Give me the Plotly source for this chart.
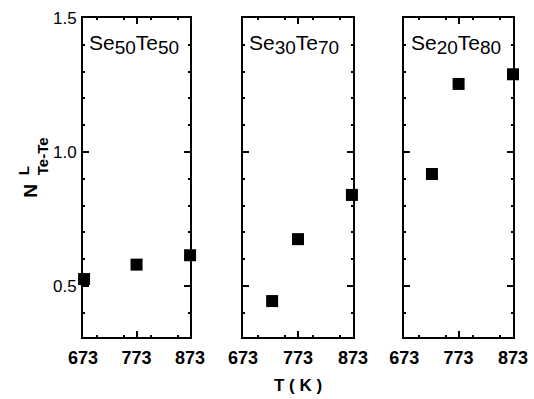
import plotly.graph_objects as go

temps_ticks = [673, 773, 873]
y_ticks = [0.5, 1.0, 1.5]

sub = "<sub><span style='font-size:19px'>{}</span></sub>"
labels = ["Se" + sub.format(50) + "Te" + sub.format(50),
          "Se" + sub.format(30) + "Te" + sub.format(70),
          "Se" + sub.format(20) + "Te" + sub.format(80)]
se50_T = [675, 773, 873]
se50_N = [0.526, 0.58, 0.615]
se30_T = [726, 773, 871]
se30_N = [0.444, 0.675, 0.84]
se20_T = [724, 773, 873]
se20_N = [0.918, 1.254, 1.29]

series = [(se50_T, se50_N), (se30_T, se30_N), (se20_T, se20_N)]
domains = [[0.0, 0.249], [0.372, 0.628], [0.747, 1.0]]

fig = go.Figure()
font = dict(family="Liberation Sans, Arial, sans-serif", color="black")
tfont = dict(family="Liberation Sans, Arial, sans-serif", color="black", weight="bold")
for i, (T, N) in enumerate(series):
    sfx = "" if i == 0 else str(i + 1)
    fig.add_trace(go.Scatter(x=T, y=N, mode="markers", xaxis="x" + sfx, yaxis="y" + sfx,
                             marker=dict(symbol="square", size=12, color="black"),
                             cliponaxis=False, showlegend=False, hoverinfo="skip"))
    common = dict(showline=True, linecolor="black", linewidth=1.8, mirror="ticks",
                  ticks="inside", ticklen=6, tickwidth=1.5, tickcolor="black",
                  showgrid=False, zeroline=False, automargin=False)
    fig.update_layout(**{
        "xaxis" + sfx: dict(domain=domains[i], range=[673, 873], tickvals=temps_ticks,
                            ticktext=[str(t) for t in temps_ticks], anchor="y" + sfx,
                            tickfont=dict(size=18, **tfont), ticklabelstandoff=3,
                            minor=dict(ticks="inside", ticklen=2, dtick=50, tickcolor="black"),
                            **common),
        "yaxis" + sfx: dict(range=[0.31, 1.5], tickvals=y_ticks, anchor="x" + sfx,
                            ticktext=["0.5", "1.0", "1.5"], showticklabels=(i == 0),
                            tickfont=dict(size=17, **font), ticklabelstandoff=1,
                            minor=dict(ticks="inside", ticklen=2, dtick=0.1, tickcolor="black"),
                            **common),
    })
    fig.add_annotation(text=labels[i], xref="x" + sfx + " domain", yref="y" + sfx + " domain",
                       x=0.04, y=0.965, xanchor="left", yanchor="top", showarrow=False,
                       font=dict(size=21, **font))

# y-axis title: N with stacked L / Te-Te
fig.add_annotation(text="N", xref="paper", yref="paper", x=-0.121, y=0.458,
                   xanchor="center", yanchor="middle", textangle=-90, showarrow=False,
                   font=dict(size=19, **tfont))
fig.add_annotation(text="L<br>Te-Te", xref="paper", yref="paper", x=-0.116, y=0.567,
                   xanchor="center", yanchor="middle", textangle=-90, align="left",
                   showarrow=False, font=dict(size=15, **tfont))
fig.add_annotation(text="T ( K )", xref="paper", yref="paper", x=0.499, y=-0.115,
                   yanchor="top", showarrow=False, font=dict(size=17, **tfont))

fig.update_layout(width=534, height=399, margin=dict(l=83, r=21, t=18, b=62, autoexpand=False),
                  plot_bgcolor="white", paper_bgcolor="white")
fig.write_html("out.html", config={"displayModeBar": False},
               post_script="document.body.style.margin='0';document.body.style.overflow='hidden';")
